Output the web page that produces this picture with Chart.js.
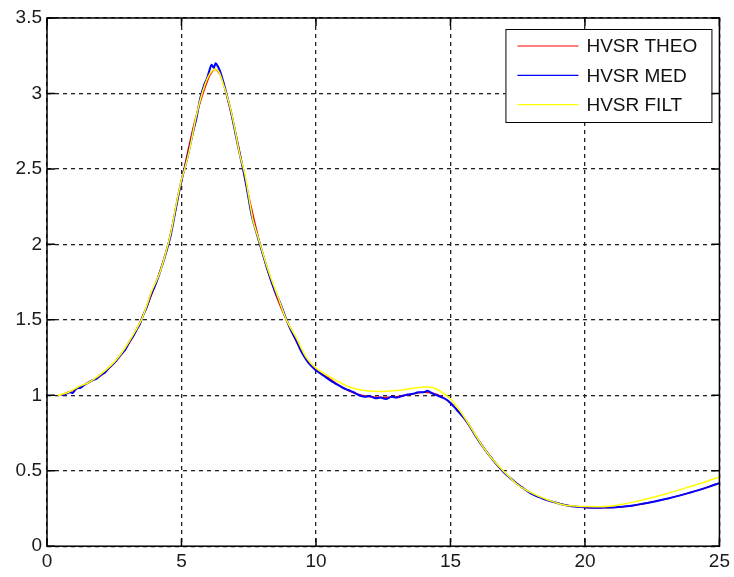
<!DOCTYPE html>
<html>
<head>
<meta charset="utf-8">
<script src="https://cdn.jsdelivr.net/npm/chart.js@4.4.1/dist/chart.umd.min.js"></script>
<style>
  html, body { margin: 0; padding: 0; background: #fff; }
</style>
</head>
<body>
<canvas id="chart" width="734" height="577"></canvas>
<script>
// eixos
const xTicks = [0, 5, 10, 15, 20, 25];
const yTicks = [0, 0.5, 1, 1.5, 2, 2.5, 3, 3.5];

// HVSR THEO (vermelho)
const freq_theo = [0.5, 1, 1.5, 2, 2.5, 3, 3.5, 4, 4.5, 5, 5.5, 6, 6.25, 6.5, 7, 7.5, 8, 8.5, 9, 9.5,
  10, 10.5, 11, 11.5, 12, 12.5, 13, 13.5, 14, 14.5, 15, 15.5, 16, 16.5, 17, 17.5, 18, 18.5, 19, 19.5,
  20, 20.5, 21, 21.5, 22, 22.5, 23, 23.5, 24, 24.5, 25];
const hvsr_theo = [1.0, 1.035, 1.08, 1.13, 1.215, 1.33, 1.5, 1.72, 2.0, 2.42, 2.82, 3.1, 3.16, 3.1, 2.75, 2.32, 1.95, 1.67, 1.46, 1.28,
  1.17, 1.11, 1.05, 1.01, 0.99, 0.985, 0.99, 1.005, 1.02, 1.005, 0.95, 0.85, 0.715, 0.59, 0.49, 0.41, 0.35, 0.31, 0.285, 0.266,
  0.257, 0.255, 0.257, 0.263, 0.276, 0.293, 0.312, 0.335, 0.36, 0.388, 0.418];

// HVSR MED (azul, com ruido)
const freq_med = [0.55, 0.7, 0.85, 0.95, 1.1, 1.25, 1.4, 1.55, 1.7, 1.85, 2.0, 2.15, 2.3, 2.45, 2.6, 2.75, 2.9, 3.05, 3.2, 3.35,
  3.45, 3.55, 3.7, 3.85, 4.0, 4.15, 4.3, 4.45, 4.6, 4.75, 4.9, 5.05, 5.2, 5.35, 5.45, 5.55, 5.7, 5.85, 5.95, 6.05,
  6.12, 6.2, 6.27, 6.35, 6.45, 6.55, 6.7, 6.85, 7.0, 7.15, 7.3, 7.45, 7.6, 7.75, 7.9, 8.05, 8.2, 8.35, 8.5, 8.65,
  8.8, 8.95, 9.1, 9.25, 9.4, 9.55, 9.7, 9.85, 10.0, 10.2, 10.4, 10.6, 10.8, 11.0, 11.2, 11.4, 11.6, 11.8, 12.0, 12.2,
  12.4, 12.6, 12.8, 13.0, 13.2, 13.4, 13.6, 13.8, 14.0, 14.15, 14.3, 14.5, 14.7, 14.9, 15.1, 15.3, 15.5, 15.7, 15.9, 16.1,
  16.3, 16.5, 16.7, 16.9, 17.1, 17.3, 17.5, 17.7, 17.9, 18.1, 18.3, 18.5, 18.7, 18.9, 19.2, 19.5, 19.8, 20.1, 20.4, 20.7,
  21.0, 21.4, 21.8, 22.2, 22.6, 23.0, 23.4, 23.8, 24.2, 24.6, 25.0];
const hvsr_med = [1.0, 1.01, 1.02, 1.015, 1.045, 1.05, 1.07, 1.085, 1.1, 1.11, 1.135, 1.15, 1.18, 1.205, 1.235, 1.27, 1.3, 1.35, 1.39, 1.44,
  1.47, 1.52, 1.58, 1.66, 1.72, 1.79, 1.87, 1.96, 2.06, 2.2, 2.34, 2.46, 2.56, 2.68, 2.76, 2.83, 2.97, 3.06, 3.1, 3.16,
  3.19, 3.17, 3.2, 3.18, 3.14, 3.08, 2.98, 2.87, 2.74, 2.61, 2.49, 2.35, 2.2, 2.1, 2.01, 1.92, 1.83, 1.75, 1.68, 1.62,
  1.55, 1.48, 1.42, 1.37, 1.31, 1.26, 1.22, 1.19, 1.165, 1.14, 1.115, 1.09, 1.07, 1.05, 1.035, 1.02, 1.0, 0.99, 0.995, 0.98,
  0.985, 0.975, 0.99, 0.985, 0.995, 1.005, 1.01, 1.02, 1.02, 1.03, 1.015, 1.0, 0.985, 0.965, 0.93, 0.89, 0.85, 0.8, 0.74, 0.685,
  0.635, 0.59, 0.545, 0.505, 0.47, 0.44, 0.41, 0.385, 0.36, 0.34, 0.325, 0.31, 0.3, 0.29, 0.275, 0.265, 0.26, 0.256, 0.255, 0.256,
  0.256, 0.262, 0.27, 0.283, 0.296, 0.313, 0.33, 0.35, 0.37, 0.393, 0.418];

// HVSR FILT (amarelo)
const freq_filt = [0.4, 0.8, 1.15, 1.5, 1.77, 2.0, 2.39, 2.6, 2.89, 3.2, 3.51, 3.7, 3.88, 4.19, 4.44, 4.62, 4.8, 5.0, 5.12, 5.3,
  5.55, 5.8, 6.05, 6.25, 6.4, 6.54, 6.7, 6.86, 7.0, 7.16, 7.35, 7.5, 7.66, 7.91, 8.22, 8.59, 8.9, 9.27, 9.64, 10.0,
  10.63, 11.25, 11.87, 12.5, 13.11, 13.73, 14.1, 14.35, 14.6, 14.97, 15.3, 15.59, 15.9, 16.21, 16.5, 16.83, 17.15, 17.45, 17.75, 18.07,
  18.4, 18.69, 19.0, 19.31, 19.7, 20.05, 20.4, 20.8, 21.3, 21.78, 22.4, 23.03, 23.6, 24.26, 24.7, 25.0];
const hvsr_filt = [1.0, 1.02, 1.055, 1.08, 1.11, 1.14, 1.2, 1.24, 1.31, 1.4, 1.5, 1.59, 1.685, 1.81, 1.96, 2.09, 2.26, 2.43, 2.5, 2.63,
  2.85, 3.02, 3.13, 3.16, 3.14, 3.07, 2.98, 2.87, 2.75, 2.6, 2.47, 2.32, 2.16, 2.01, 1.83, 1.65, 1.5, 1.38, 1.25, 1.18,
  1.11, 1.055, 1.03, 1.025, 1.033, 1.05, 1.055, 1.05, 1.03, 0.98, 0.91, 0.834, 0.745, 0.657, 0.59, 0.524, 0.465, 0.414, 0.378, 0.348,
  0.322, 0.303, 0.283, 0.27, 0.265, 0.263, 0.262, 0.263, 0.275, 0.292, 0.318, 0.348, 0.378, 0.414, 0.44, 0.46];

const FONT = "'Liberation Sans', Arial, sans-serif";
Chart.defaults.font.family = FONT;
Chart.defaults.font.size = 19;
Chart.defaults.color = "#1a1a1a";

function pontos(xs, ys) {
  return xs.map((x, k) => ({ x: x, y: ys[k] }));
}

// caixa, marcas internas e legenda estilo matlab
const matlabBox = {
  id: "matlabBox",
  afterDraw(chart) {
    const ctx = chart.ctx;
    const a = chart.chartArea;
    const sx = chart.scales.x, sy = chart.scales.y;
    ctx.save();
    ctx.strokeStyle = "#000";
    ctx.lineWidth = 1.5;
    ctx.setLineDash([]);
    // marcas
    ctx.beginPath();
    xTicks.forEach(v => {
      const p = sx.getPixelForValue(v);
      ctx.moveTo(p, a.bottom); ctx.lineTo(p, a.bottom - 8);
      ctx.moveTo(p, a.top); ctx.lineTo(p, a.top + 8);
    });
    yTicks.forEach(v => {
      const p = sy.getPixelForValue(v);
      ctx.moveTo(a.left, p); ctx.lineTo(a.left + 8, p);
      ctx.moveTo(a.right, p); ctx.lineTo(a.right - 8, p);
    });
    ctx.stroke();
    ctx.strokeRect(a.left, a.top, a.right - a.left, a.bottom - a.top);

    // legenda
    const bw = 206, bh = 93;
    const bx = a.right - 8 - bw, by = a.top + 11;
    ctx.fillStyle = "#fff";
    ctx.fillRect(bx, by, bw, bh);
    ctx.lineWidth = 1;
    ctx.strokeRect(bx + 0.5, by + 0.5, bw, bh);
    ctx.font = "19px " + FONT;
    ctx.textBaseline = "middle";
    ctx.textAlign = "left";
    chart.data.datasets.forEach((ds, k) => {
      const y = by + 17 + k * 29.3;
      ctx.strokeStyle = ds.borderColor;
      ctx.lineWidth = 1.2;
      ctx.beginPath();
      ctx.moveTo(bx + 12, y); ctx.lineTo(bx + 73, y);
      ctx.stroke();
      ctx.fillStyle = "#111";
      ctx.fillText(ds.label, bx + 81, y + 1);
    });
    ctx.restore();
  }
};

const data = {
  datasets: [
    {
      label: "HVSR THEO",
      data: pontos(freq_theo, hvsr_theo),
      borderColor: "#ff0000",
      borderWidth: 1.5,
      order: 3,
    },
    {
      label: "HVSR MED",
      data: pontos(freq_med, hvsr_med),
      borderColor: "#0000ff",
      borderWidth: 2,
      order: 2,
    },
    {
      label: "HVSR FILT",
      data: pontos(freq_filt, hvsr_filt),
      borderColor: "#ffff00",
      borderWidth: 1.5,
      order: 1,
    },
  ],
};

const config = {
  type: "scatter",
  data,
  options: {
    responsive: false,
    animation: false,
    showLine: true,
    elements: { point: { radius: 0 }, line: { tension: 0.3 } },
    layout: { padding: { top: 18, right: 14, bottom: 0, left: 0 } },
    plugins: { legend: { display: false }, tooltip: { enabled: false } },
    scales: {
      x: {
        type: "linear",
        min: 0, max: 25,
        afterBuildTicks: s => { s.ticks = xTicks.map(v => ({ value: v })); },
        ticks: { padding: 4, callback: v => String(v), maxRotation: 0 },
        grid: { color: "#222", lineWidth: 1.3, drawTicks: false },
        border: { display: false, dash: [4, 4] },
      },
      y: {
        type: "linear",
        min: 0, max: 3.5,
        afterBuildTicks: s => { s.ticks = yTicks.map(v => ({ value: v })); },
        afterFit: s => { s.width = 47; },
        ticks: { padding: 5, callback: v => String(v) },
        grid: { color: "#222", lineWidth: 1.3, drawTicks: false },
        border: { display: false, dash: [4, 4] },
      },
    },
  },
  plugins: [matlabBox],
};

const ctx = document.getElementById("chart");
const myChart = new Chart(ctx, config);
</script>
</body>
</html>
